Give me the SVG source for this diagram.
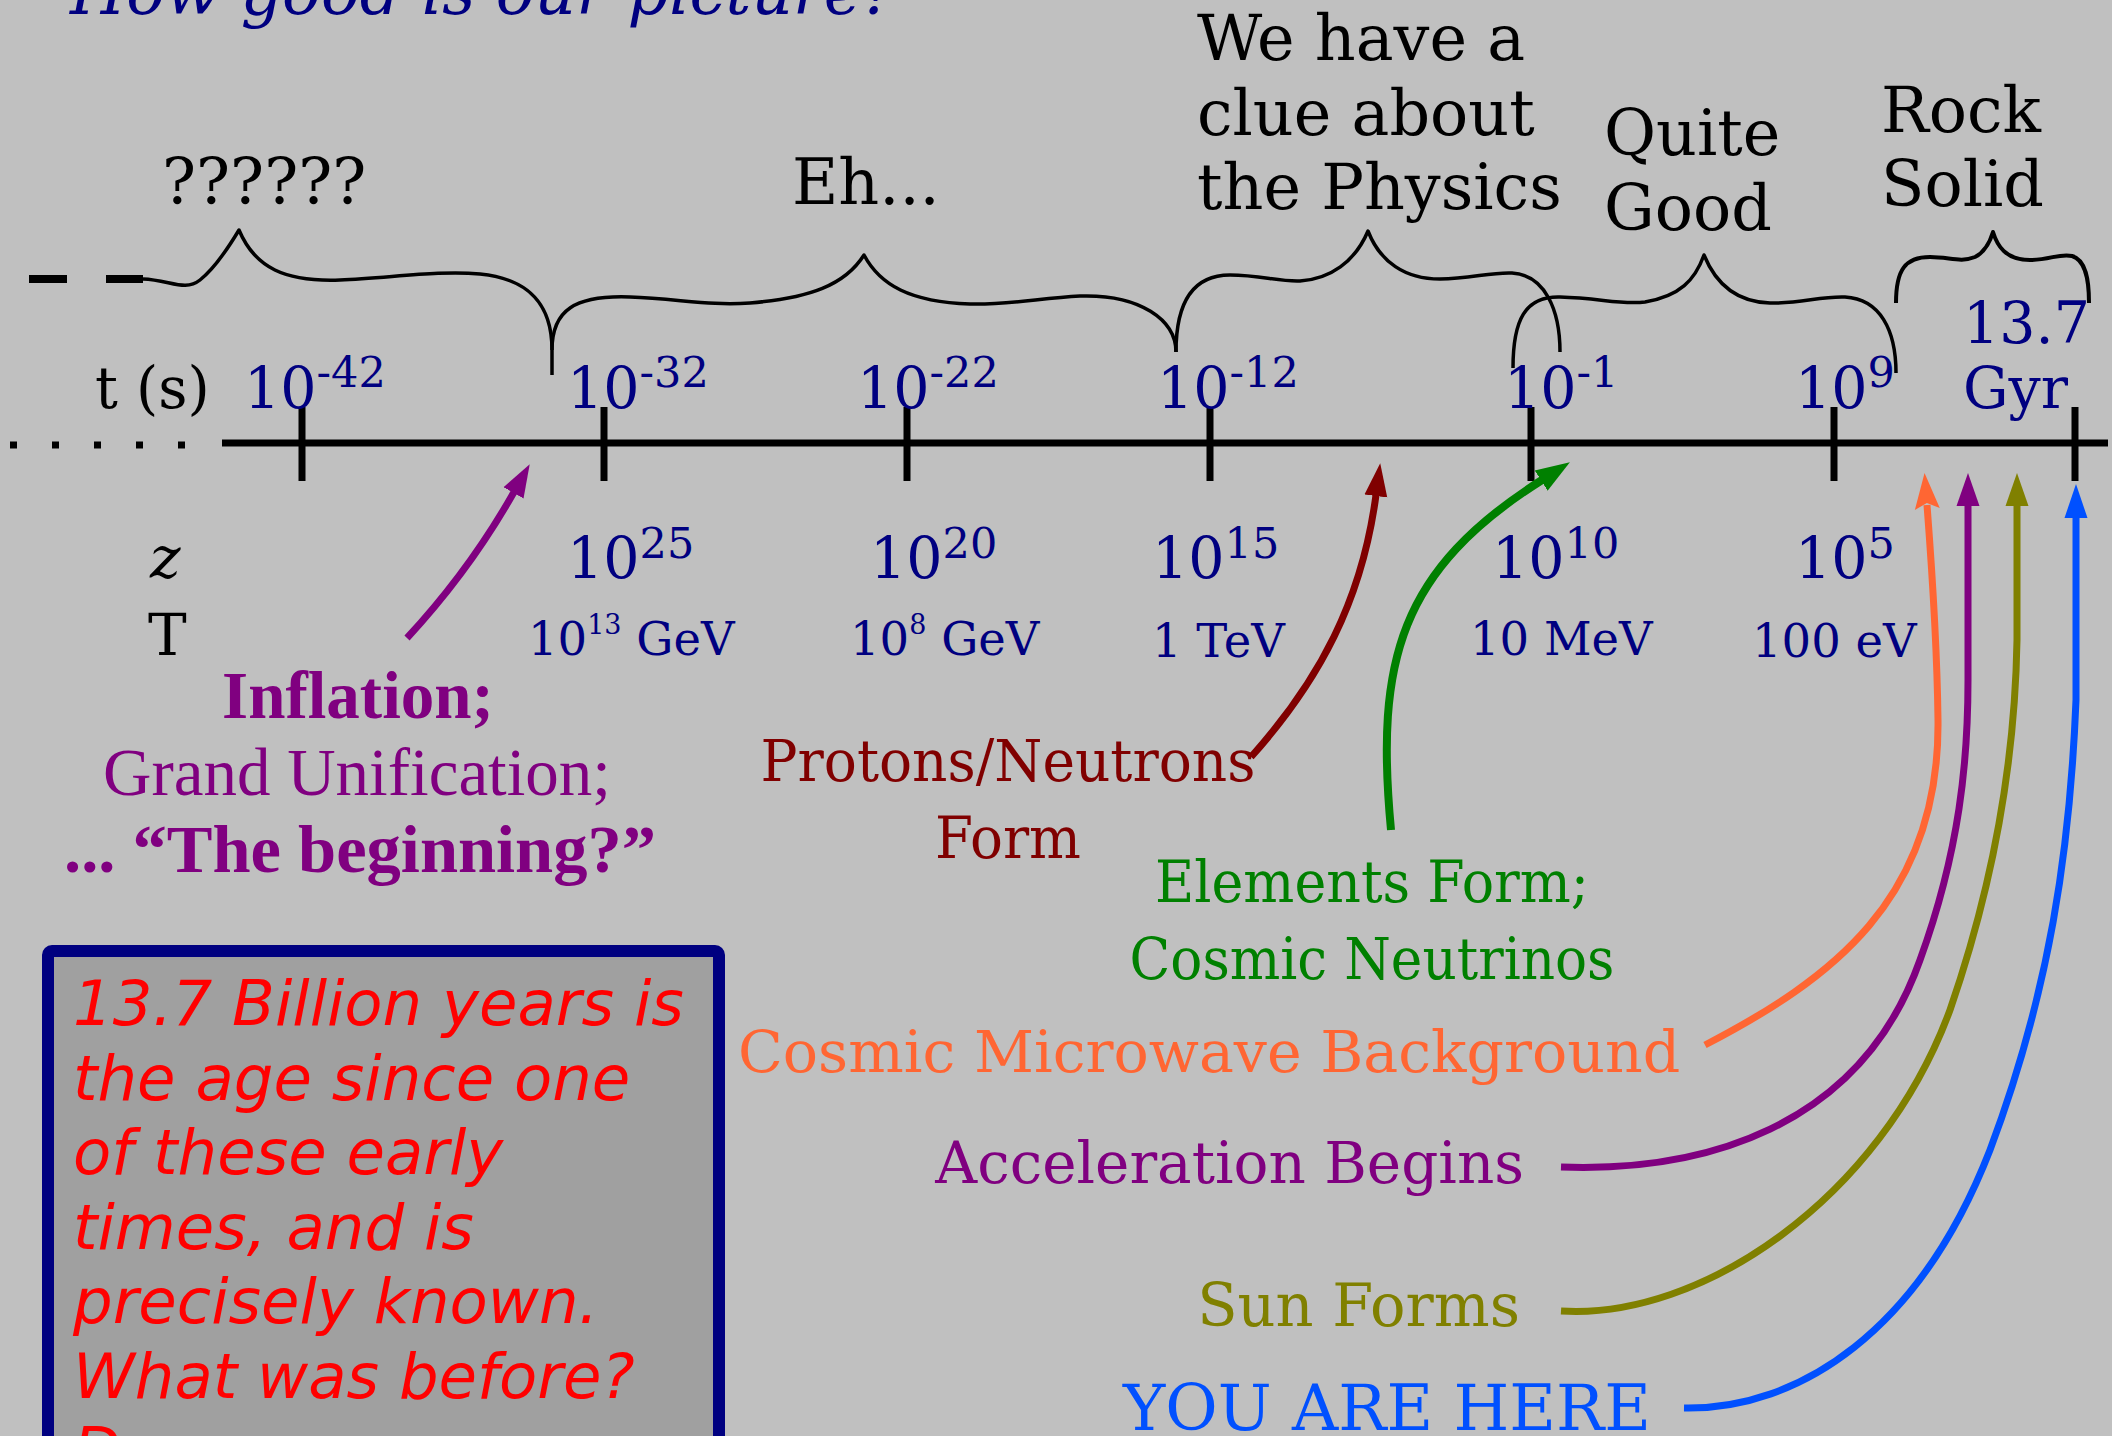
<svg xmlns="http://www.w3.org/2000/svg" width="2112" height="1436" viewBox="0 0 2112 1436">
<defs>
<style>
text{font-family:'DejaVu Serif','Liberation Serif',serif}
.big{font-size:63.5px;fill:#000}
.tick{font-size:57px;fill:#000080}
.sup{font-size:43px}
.en{font-size:46.5px;fill:#000080}
.esup{font-size:27px}
.brace{fill:none;stroke:#000;stroke-width:3.5;stroke-linejoin:round}
.arrow{fill:none;stroke-width:7}
.lib{font-family:'Liberation Serif','Times New Roman',serif;fill:#800080;font-size:67px;text-anchor:middle}
.box{font-family:'DejaVu Sans','Liberation Sans',sans-serif;font-style:italic;font-size:62.5px;fill:#ff0000}
.lbl{font-size:58px}
</style>
<marker id="mPurple" markerUnits="userSpaceOnUse" markerWidth="40" markerHeight="30" viewBox="0 -15 40 30" refX="1" refY="0" orient="auto"><path d="M0,-11.5 L33,0 L0,11.5 Z" fill="#800080"/></marker>
<marker id="mRed" markerUnits="userSpaceOnUse" markerWidth="40" markerHeight="30" viewBox="0 -15 40 30" refX="1" refY="0" orient="auto"><path d="M0,-11.5 L33,0 L0,11.5 Z" fill="#800000"/></marker>
<marker id="mGreen" markerUnits="userSpaceOnUse" markerWidth="40" markerHeight="30" viewBox="0 -15 40 30" refX="1" refY="0" orient="auto"><path d="M0,-12 L34,0 L0,12 Z" fill="#008000"/></marker>
<marker id="mOrange" markerUnits="userSpaceOnUse" markerWidth="42" markerHeight="30" viewBox="0 -15 42 30" refX="4" refY="0" orient="auto"><path d="M0,-12.5 L36,0 L0,12.5 L6,0 Z" fill="#ff6633"/></marker>
<marker id="mOlive" markerUnits="userSpaceOnUse" markerWidth="40" markerHeight="30" viewBox="0 -15 40 30" refX="1" refY="0" orient="auto"><path d="M0,-11.5 L33,0 L0,11.5 Z" fill="#808000"/></marker>
<marker id="mBlue" markerUnits="userSpaceOnUse" markerWidth="40" markerHeight="30" viewBox="0 -15 40 30" refX="1" refY="0" orient="auto"><path d="M0,-11.5 L34,0 L0,11.5 Z" fill="#0050ff"/></marker>
</defs>
<rect width="2112" height="1436" fill="#c0c0c0"/>

<g id="title"><text x="70" y="14" font-style="italic" font-size="64.5" fill="#000080">How good is our picture?</text></g>

<g id="axis">
<line x1="10" y1="445" x2="186" y2="445" stroke="#000" stroke-width="7" stroke-dasharray="7 35"/>
<line x1="222" y1="443" x2="2108" y2="443" stroke="#000" stroke-width="7"/>
<path d="M302,407V481M604,407V481M907,407V481M1210,407V481M1531,407V481M1834,407V481M2075,407V481" stroke="#000" stroke-width="7"/>
</g>

<g id="era-unknown">
<line x1="29" y1="279" x2="143" y2="279" stroke="#000" stroke-width="8" stroke-dasharray="38 39"/>
<path class="brace" d="M143,279 C170,280 185,292 200,280 C215,268 230,245 239,230 C255,268 285,282 340,280 C390,278 440,270 480,274 C530,279 552,305 552,350 L552,375"/>
<text class="big" x="162" y="204">??????</text>
</g>
<g id="era-eh">
<path class="brace" d="M552,350 C552,310 575,295 630,297 C680,299 710,306 750,303 C810,298 845,285 864,255 C880,285 910,302 970,304 C1010,305 1040,298 1080,296 C1140,294 1176,320 1176,352"/>
<text class="big" x="792" y="204">Eh...</text>
</g>
<g id="era-clue">
<path class="brace" d="M1176,352 C1176,300 1195,275 1230,275 C1260,275 1280,282 1300,281 C1330,279 1355,262 1368,231 C1380,262 1405,279 1440,279 C1470,279 1490,272 1512,273 C1545,275 1560,310 1560,352"/>
<text class="big" x="1197" y="60">We have a</text>
<text class="big" x="1197" y="135">clue about</text>
<text class="big" x="1197" y="209">the Physics</text>
</g>
<g id="era-good">
<path class="brace" d="M1513,368 C1513,320 1525,296 1560,297 C1600,298 1620,305 1645,302 C1680,296 1695,280 1704,255 C1715,282 1735,302 1770,303 C1800,304 1820,296 1845,297 C1880,299 1896,330 1896,373"/>
<text class="big" x="1604" y="155">Quite</text>
<text class="big" x="1604" y="230">Good</text>
</g>
<g id="era-solid">
<path class="brace" style="stroke-width:4" d="M1896,303 C1896,270 1905,257 1930,257 C1950,257 1960,263 1975,257 C1985,252 1990,242 1993,232 C1997,245 2005,260 2030,260 C2050,260 2060,253 2072,256 C2086,260 2089,280 2089,303"/>
<text class="big" x="1881" y="132">Rock</text>
<text class="big" x="1881" y="206">Solid</text>
</g>

<g id="time-labels">
<text x="95" y="408" font-size="57" fill="#000">t (s)</text>
<text class="tick" x="244" y="408">10<tspan class="sup" dy="-21">-42</tspan></text>
<text class="tick" x="567" y="408">10<tspan class="sup" dy="-21">-32</tspan></text>
<text class="tick" x="857" y="408">10<tspan class="sup" dy="-21">-22</tspan></text>
<text class="tick" x="1157" y="408">10<tspan class="sup" dy="-21">-12</tspan></text>
<text class="tick" x="1504" y="408">10<tspan class="sup" dy="-21">-1</tspan></text>
<text class="tick" x="1795" y="408">10<tspan class="sup" dy="-21">9</tspan></text>
<text class="tick" x="1963" y="343">13.7</text>
<text class="tick" x="1963" y="408">Gyr</text>
</g>

<g id="z-labels">
<text x="150" y="578" font-size="58" font-style="italic" fill="#000">z</text>
<text class="tick" x="567" y="578">10<tspan class="sup" dy="-20">25</tspan></text>
<text class="tick" x="870" y="578">10<tspan class="sup" dy="-20">20</tspan></text>
<text class="tick" x="1152" y="578">10<tspan class="sup" dy="-20">15</tspan></text>
<text class="tick" x="1492" y="578">10<tspan class="sup" dy="-20">10</tspan></text>
<text class="tick" x="1795" y="578">10<tspan class="sup" dy="-20">5</tspan></text>
</g>

<g id="T-labels">
<text x="148" y="655" font-size="58" fill="#000">T</text>
<text class="en" x="528" y="655">10<tspan class="esup" dy="-21">13</tspan><tspan dy="21"> GeV</tspan></text>
<text class="en" x="850" y="655">10<tspan class="esup" dy="-21">8</tspan><tspan dy="21"> GeV</tspan></text>
<text class="en" x="1152" y="657">1 TeV</text>
<text class="en" x="1470" y="655">10 MeV</text>
<text class="en" x="1752" y="657">100 eV</text>
</g>

<g id="inflation">
<text class="lib" x="358" y="718" font-weight="bold">Inflation;</text>
<text class="lib" x="357" y="795">Grand Unification;</text>
<text class="lib" x="360" y="872" font-weight="bold" style="font-size:68.5px">... “The beginning?”</text>
</g>

<g id="protons"><text class="lbl" x="1008" y="781" text-anchor="middle" fill="#800000" textLength="495" lengthAdjust="spacingAndGlyphs">Protons/Neutrons</text><text class="lbl" x="1008" y="858" text-anchor="middle" fill="#800000" textLength="146" lengthAdjust="spacingAndGlyphs">Form</text></g>
<g id="elements"><text class="lbl" x="1372" y="902" text-anchor="middle" fill="#008000" textLength="434" lengthAdjust="spacingAndGlyphs">Elements Form;</text><text class="lbl" x="1372" y="979" text-anchor="middle" fill="#008000" textLength="485" lengthAdjust="spacingAndGlyphs">Cosmic Neutrinos</text></g>
<g id="cmb"><text x="738" y="1072" font-size="58.6" fill="#ff6633">Cosmic Microwave Background</text></g>
<g id="acceleration"><text class="lbl" x="1524" y="1183" text-anchor="end" fill="#800080">Acceleration Begins</text></g>
<g id="sun"><text x="1520" y="1326" font-size="59" text-anchor="end" fill="#808000">Sun Forms</text></g>
<g id="here"><text x="1123" y="1430" font-size="64" fill="#0050ff">YOU ARE HERE</text></g>

<g id="note">
<rect x="48" y="951" width="671" height="560" rx="4" fill="#a0a0a0" stroke="#000080" stroke-width="12"/>
<text class="box" x="73" y="1025">13.7 Billion years is</text>
<text class="box" x="73" y="1100">the age since one</text>
<text class="box" x="73" y="1174">of these early</text>
<text class="box" x="73" y="1249">times, and is</text>
<text class="box" x="73" y="1323">precisely known.</text>
<text class="box" x="73" y="1398">What was before?</text>
<text class="box" x="73" y="1472">D</text>
</g>

<g id="connectors">
<path class="arrow" stroke="#800080" marker-end="url(#mPurple)" d="M407,638 Q470,570 514,492"/>
<path class="arrow" stroke="#800000" marker-end="url(#mRed)" d="M1251,757 C1320,680 1362,600 1376,495"/>
<path class="arrow" stroke="#008000" style="stroke-width:8" marker-end="url(#mGreen)" d="M1391,830 C1375,660 1400,570 1542,480"/>
<path class="arrow" stroke="#ff6633" marker-end="url(#mOrange)" d="M1705,1045 C1830,980 1940,900 1938,720 C1937,640 1932,570 1927,505"/>
<path class="arrow" stroke="#800080" marker-end="url(#mPurple)" d="M1561,1167 C1700,1172 1860,1130 1920,960 C1960,850 1968,760 1968,680 L1968,505"/>
<path class="arrow" stroke="#808000" marker-end="url(#mOlive)" d="M1561,1311 C1700,1320 1880,1200 1950,1010 C1995,880 2015,760 2017,640 L2017,505"/>
<path class="arrow" stroke="#0050ff" marker-end="url(#mBlue)" d="M1684,1408 C1800,1410 1920,1330 1990,1150 C2050,990 2070,850 2076,700 L2076,517"/>
</g>
</svg>
